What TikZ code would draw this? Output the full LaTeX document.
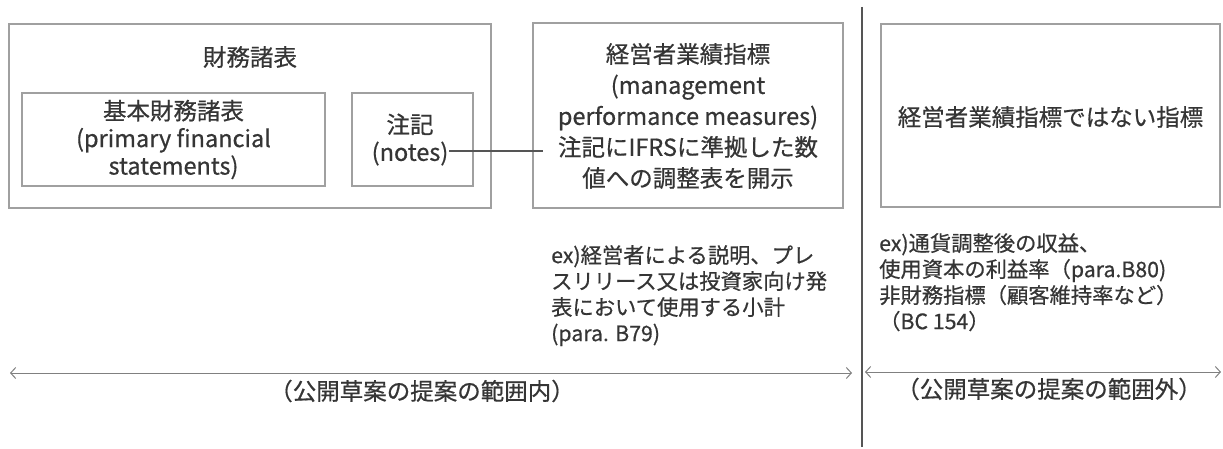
\documentclass[tikz,border=0pt]{standalone}
\usepackage{fontspec}
\setmainfont{Noto Sans CJK JP}[RawFeature={embolden=0.6}]
\usetikzlibrary{arrows.meta}
\definecolor{txt}{HTML}{353535}
\definecolor{boxline}{HTML}{A0A0A0}
\definecolor{divline}{HTML}{555555}
\definecolor{arrline}{HTML}{808080}
\tikzset{
  box/.style={draw=boxline, line width=1.3pt, inner sep=0pt, text=txt, align=center},
  boxtext/.style={text=txt, align=center, inner sep=0pt, font=\fontsize{23.5}{27.5}\selectfont},
  extext/.style={text=txt, align=left, inner sep=0pt, anchor=north west, font=\fontsize{21.3}{26}\selectfont},
  scopearrow/.style={draw=arrline, line width=1pt, {Straight Barb[length=5pt,width=11pt]}-{Straight Barb[length=5pt,width=11pt]}},
  rangelabel/.style={text=txt, inner sep=0pt, font=\fontsize{23.5}{27}\selectfont}
}
\begin{document}
\begin{tikzpicture}[x=1pt,y=-1pt]
\useasboundingbox (0,0) rectangle (1223,449);
% outer financial statements box
\node[box, minimum width=482pt, minimum height=184pt] (fs) at (250,116) {};
\node[boxtext] (fstitle) at (250,57) {財務諸表};
\node[box, minimum width=303pt, minimum height=93pt] (pfs) at (173.5,139.5) {};
\node[boxtext] (pfstext) at (173.5,139.5) {基本財務諸表\\(primary financial\\statements)};
\node[box, minimum width=121pt, minimum height=93pt] (notes) at (412.5,139.5) {};
\node[boxtext] (notestext) at (410,139.5) {注記\\(notes)};
% management performance measures
\node[box, minimum width=310pt, minimum height=185pt] (mpm) at (688,115.5) {};
\node[boxtext, font=\fontsize{23.5}{31}\selectfont] (mpmtext) at (688,116) {経営者業績指標\\(management\\performance measures)\\注記にIFRSに準拠した数\\値への調整表を開示};
\coordinate (nend) at (449,151);
\coordinate (mstart) at (543,151);
\draw[draw=divline, line width=2pt] (nend) -- (mstart);
% divider
\coordinate (dtop) at (862,7);
\coordinate (dbot) at (862,447);
\draw[draw=divline, line width=2.2pt] (dtop) -- (dbot);
% non-MPM box
\node[box, minimum width=339pt, minimum height=183pt] (nmpm) at (1050.5,115.5) {};
\node[boxtext] (nmpmtext) at (1050.5,117) {経営者業績指標ではない指標};
% examples
\node[extext] (ex1) at (551,245) {ex)経営者による説明、プレ\\スリリース又は投資家向け発\\表において使用する小計\\(para. B79)};
\node[extext] (ex2) at (879,233) {ex)通貨調整後の収益、\\使用資本の利益率（para.B80)\\非財務指標（顧客維持率など）\\（BC 154）};
% ranges
\coordinate (r1a) at (10,373);
\coordinate (r1b) at (852,373);
\coordinate (r2a) at (865,372);
\coordinate (r2b) at (1221,372);
\draw[scopearrow] (r1a) -- (r1b);
\draw[scopearrow] (r2a) -- (r2b);
\node[rangelabel] (in) at (422,391) {（公開草案の提案の範囲内）};
\node[rangelabel] (out) at (1049,389) {（公開草案の提案の範囲外）};
\end{tikzpicture}
\end{document}
